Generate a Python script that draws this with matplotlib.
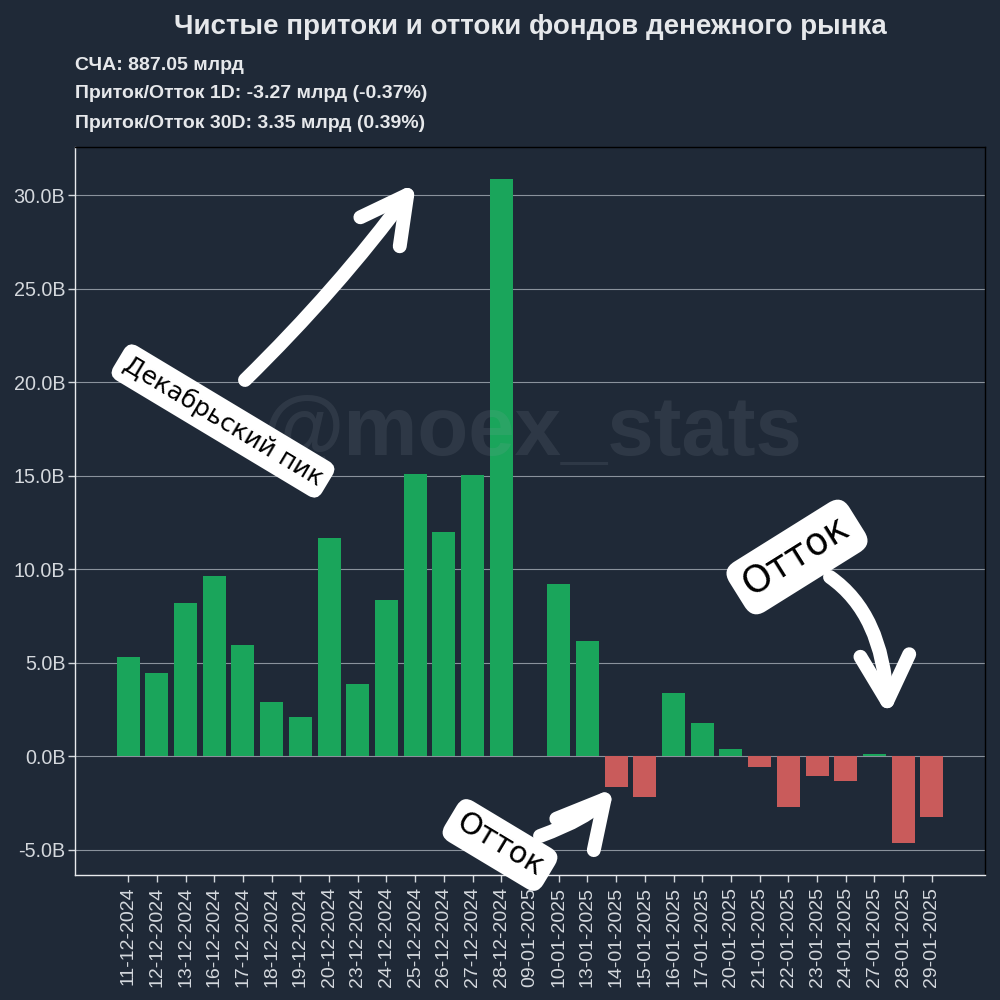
import matplotlib
matplotlib.use("Agg")
import matplotlib.pyplot as plt
from matplotlib.patches import FancyArrowPatch
from matplotlib.ticker import FuncFormatter

dates = ["11-12-2024", "12-12-2024", "13-12-2024", "16-12-2024", "17-12-2024",
         "18-12-2024", "19-12-2024", "20-12-2024", "23-12-2024", "24-12-2024",
         "25-12-2024", "26-12-2024", "27-12-2024", "28-12-2024", "09-01-2025",
         "10-01-2025", "13-01-2025", "14-01-2025", "15-01-2025", "16-01-2025",
         "17-01-2025", "20-01-2025", "21-01-2025", "22-01-2025", "23-01-2025",
         "24-01-2025", "27-01-2025", "28-01-2025", "29-01-2025"]
flows_bln = [5.3, 4.45, 8.2, 9.65, 5.95, 2.9, 2.1, 11.65, 3.85, 8.35,
             15.1, 12.0, 15.05, 30.85, 0.0, 9.2, 6.15, -1.65, -2.2, 3.35,
             1.75, 0.38, -0.57, -2.7, -1.05, -1.35, 0.1, -4.65, -3.27]

title = "Чистые притоки и оттоки фондов денежного рынка"
info_lines = ["СЧА: 887.05 млрд",
              "Приток/Отток 1D: -3.27 млрд (-0.37%)",
              "Приток/Отток 30D: 3.35 млрд (0.39%)"]

BG = "#1f2937"
GREEN = "#1aa55b"
RED = "#c95b5b"
TXT = "#e6e8eb"
FONT = ["Liberation Sans", "DejaVu Sans"]

plt.rcParams["font.family"] = FONT

fig = plt.figure(figsize=(10, 10), dpi=100, facecolor=BG)
ax = fig.add_axes([0.075, 0.125, 0.91, 0.728], facecolor=BG)

x = list(range(len(dates)))
colors = [GREEN if v >= 0 else RED for v in flows_bln]
ax.bar(x, flows_bln, width=0.8, color=colors, zorder=3)

ax.set_xlim(-1.85, len(dates) - 1 + 1.85)
ax.set_ylim(-6.36, 32.57)
ax.set_yticks([-5, 0, 5, 10, 15, 20, 25, 30])
ax.yaxis.set_major_formatter(FuncFormatter(lambda v, p: f"{v:.1f}B"))
ax.set_xticks(x)
ax.set_xticklabels(dates, rotation=90)
ax.tick_params(axis="both", colors="#d4d8dd", length=5, width=1)
ax.tick_params(axis="x", labelsize=14)
ax.tick_params(axis="y", labelsize=14.2, pad=2)
ax.grid(axis="y", color="#8a929c", linewidth=0.8, zorder=0)
ax.set_axisbelow(True)
for s in ["left", "bottom"]:
    ax.spines[s].set_color("#e8eaed")
    ax.spines[s].set_linewidth(1.0)
for s in ["top", "right"]:
    ax.spines[s].set_color("#000000")
    ax.spines[s].set_linewidth(1.0)

fig.text(0.53, 0.973, title, ha="center", va="center", fontsize=20,
         fontweight="bold", color=TXT)
for i, line in enumerate(info_lines):
    fig.text(0.075, 0.935 - i * 0.029, line, ha="left", va="center",
             fontsize=14, fontweight="bold", color=TXT)

# watermark
fig.text(0.532, 0.567, "@moex_stats", ha="center", va="center", fontsize=60,
         fontweight="bold", color="#9aa3ad", alpha=0.13, zorder=10)

def P(px, py):
    return (px / 1000, 1 - py / 1000)

def arrow(p0, p1, conn):
    a = FancyArrowPatch(P(*p0), P(*p1), transform=fig.transFigure,
                        arrowstyle="->,head_length=1.5,head_width=0.8",
                        connectionstyle=conn, shrinkA=0, shrinkB=0,
                        mutation_scale=22, lw=10, color="white",
                        capstyle="round", joinstyle="round", zorder=20)
    fig.add_artist(a)

arrow((245, 380), (416, 183), "arc3,rad=0.04")
arrow((540, 836), (614, 788), "angle3,angleA=20,angleB=50")
arrow((830, 577), (888, 716), "angle3,angleA=-35,angleB=93")

box = dict(boxstyle="round,pad=0.3,rounding_size=0.4", fc="white", ec="none")
fig.text(*P(223, 421), "Декабрьский пик", rotation=-31, ha="center", va="center",
         fontsize=18, color="black", bbox=box, zorder=21,
         family=["DejaVu Sans"], rotation_mode="anchor")
fig.text(*P(500, 845), "Отток", rotation=-31, ha="center", va="center",
         fontsize=22, color="black", bbox=box, zorder=21,
         family=["DejaVu Sans"], rotation_mode="anchor")
fig.text(*P(797, 557), "Отток", rotation=32, ha="center", va="center",
         fontsize=27, color="black", bbox=box, zorder=21,
         family=["DejaVu Sans"], rotation_mode="anchor")

fig.savefig("out.png", dpi=100, facecolor=BG)
